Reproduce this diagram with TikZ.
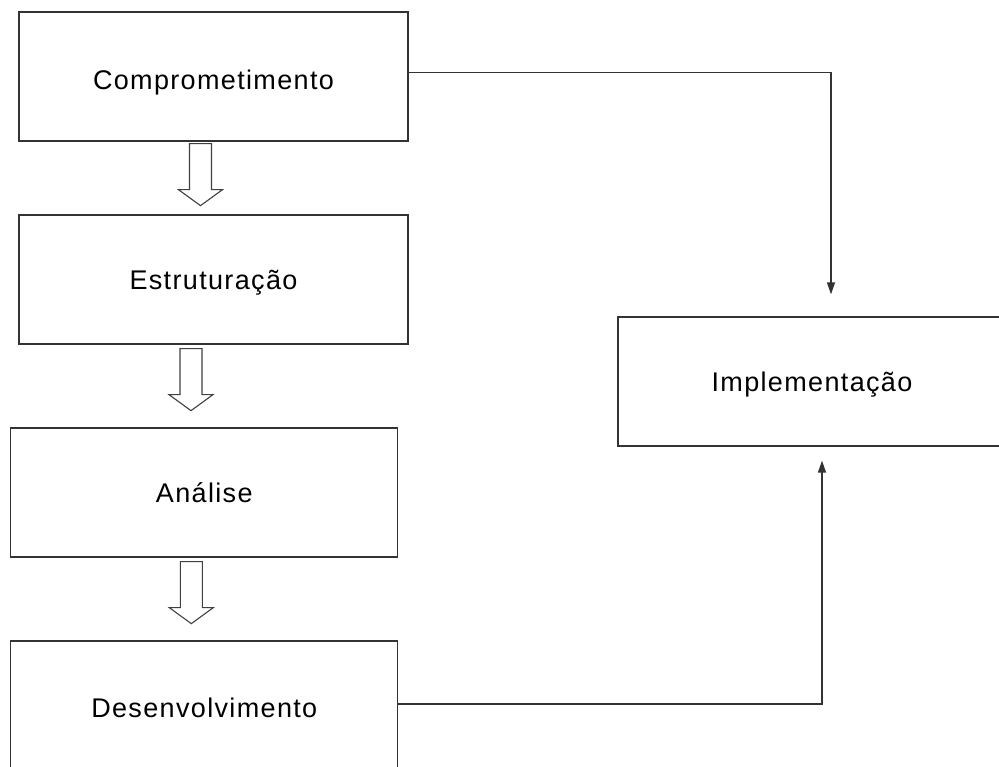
\documentclass[tikz,border=0pt]{standalone}
\usepackage{fontspec}
\newfontfamily\boxfont{Liberation Sans}[LetterSpace=5]
\usetikzlibrary{calc,arrows.meta}

\tikzset{
  stage/.style={draw=black!80, line width=1.3pt, fill=white, inner sep=0pt,
    minimum height=129pt, text height=19.3pt, text depth=0pt,
    font=\boxfont\fontsize{27}{32}\selectfont},
  link/.style={draw=black!80, line width=1.4pt,
    -{Triangle[width=8pt,length=12pt]}},
  blockarrow/.pic={
    \draw[black!75, line width=1.1pt, line join=miter, fill=white]
      (-11,0) -- (11,0) -- (11,46) -- (22,46) -- (0,62) -- (-22,46) -- (-11,46) -- cycle;
  }
}

\begin{document}
\begin{tikzpicture}[x=1pt, y=-1pt]
  \useasboundingbox (0,0) rectangle (999,767);

  % process stages
  \node[stage, minimum width=389pt] (b1) at (213.5,76.5) {\raisebox{-3.5pt}{Comprometimento}};
  \node[stage, minimum width=389pt] (b2) at (213.5,279.5) {Estruturação};
  \node[stage, minimum width=387pt] (b3) at (204.3,492.5) {Análise};
  \node[stage, minimum width=387pt] (b4) at (204.3,705.5) {\raisebox{-2pt}{Desenvolvimento}};
  \node[stage, minimum width=388pt] (impl) at (812,381.5) {Implementação};

  % hollow arrows between consecutive stages
  \pic at ($(b1.south)+(-13,2)$) {blockarrow};
  \pic at ($(b2.south)+(-22.5,4)$) {blockarrow};
  \pic at ($(b3.south)+(-13,4)$) {blockarrow};

  % feeds into the implementation stage
  \coordinate (t1) at ($(impl.north)+(19,-22)$);
  \coordinate (t2) at ($(impl.south)+(10,14)$);
  \draw[link] ($(b1.east)+(0,-4)$) -| (t1);
  \draw[link] ($(b4.east)+(0,-1.5)$) -| (t2);
\end{tikzpicture}
\end{document}
